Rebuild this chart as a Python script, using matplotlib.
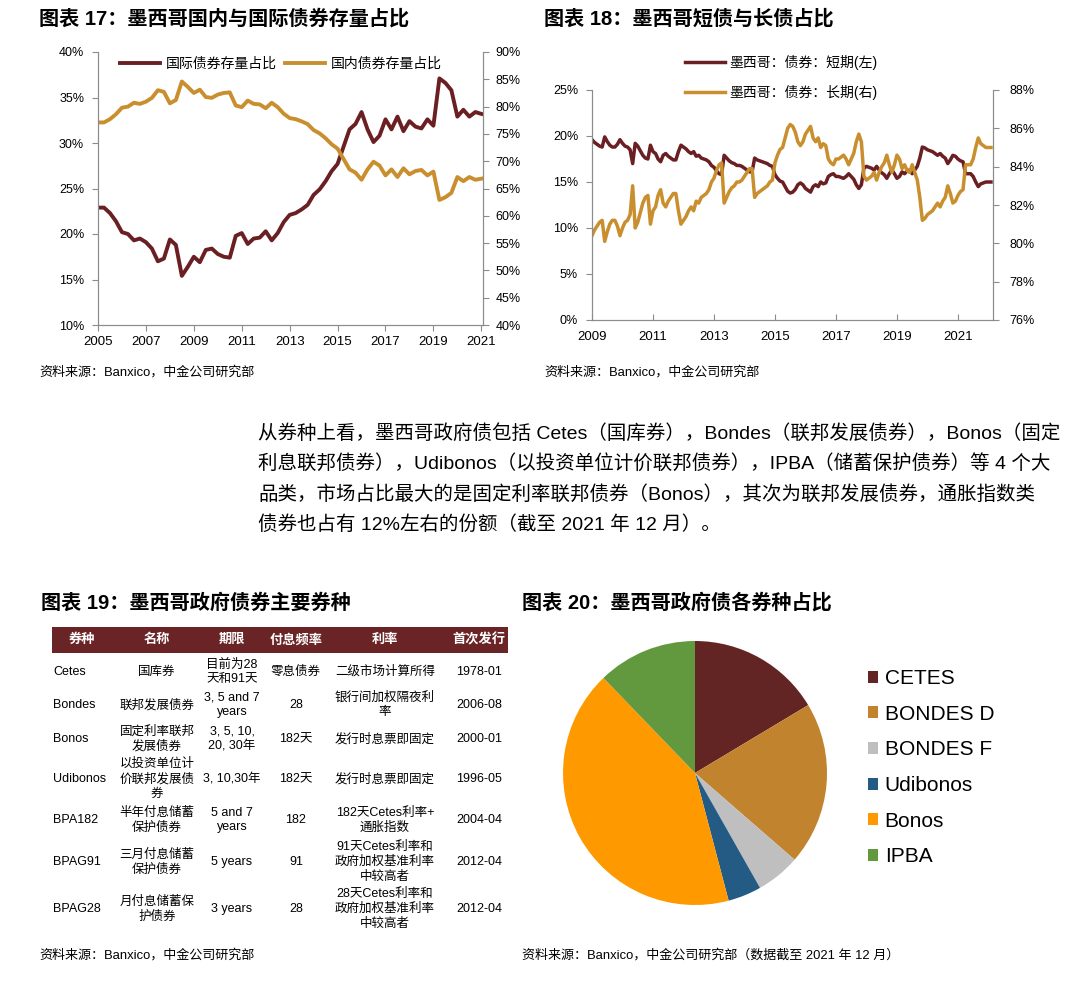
import numpy as np
import matplotlib
matplotlib.use('Agg')
import matplotlib.pyplot as plt
from matplotlib.patches import Rectangle
from matplotlib.lines import Line2D
from matplotlib.ticker import FuncFormatter

plt.rcParams['font.family'] = ['Liberation Sans', 'Noto Sans CJK SC']
plt.rcParams['axes.unicode_minus'] = False

W, H = 1080, 986
RED = '#6A1F22'
GOLD = '#C98F2E'
HEAD = '#6B2426'
AXC = '#8C8C8C'

# ---- 图表17: quarterly, 2005Q1 - 2021Q1
intl_share = [22.9, 22.9, 22.3, 21.4, 20.2, 20.0, 19.3, 19.5, 19.1, 18.4, 17.0, 17.3, 19.4,
              18.8, 15.4, 16.4, 17.5, 16.9, 18.25, 18.4, 17.8, 17.5, 17.4, 19.8, 20.1, 18.9,
              19.5, 19.6, 20.3, 19.3, 20.1, 21.3, 22.1, 22.3, 22.7, 23.2, 24.3, 24.9, 25.8,
              26.9, 27.7, 29.6, 31.5, 32.1, 33.4, 31.5, 30.1, 30.8, 32.6, 31.5, 32.9, 31.3,
              32.4, 31.8, 31.6, 32.6, 31.9, 37.1, 36.6, 35.8, 32.9, 33.65, 32.9, 33.4, 33.2]
dom_share = [77.1, 77.1, 77.7, 78.6, 79.8, 80.0, 80.7, 80.5, 80.9, 81.6, 83.0, 82.7, 80.6,
             81.2, 84.6, 83.6, 82.5, 83.1, 81.75, 81.6, 82.2, 82.5, 82.6, 80.2, 79.9, 81.1,
             80.5, 80.4, 79.7, 80.7, 79.9, 78.7, 77.9, 77.7, 77.3, 76.8, 75.7, 75.1, 74.2,
             73.1, 72.3, 70.4, 68.5, 67.9, 66.6, 68.5, 69.9, 69.2, 67.4, 68.5, 67.1, 68.7,
             67.6, 68.2, 68.4, 67.4, 68.1, 62.9, 63.4, 64.2, 67.1, 66.35, 67.1, 66.6, 66.8]
q_years = 2005 + np.arange(len(intl_share)) / 4

# ---- 图表18: monthly, 2009-01 - 2022-02
short_share = [19.6, 19.3, 19.1, 18.9, 18.8, 19.9, 19.4, 19.0, 18.8, 18.8, 19.1, 19.6,
               19.2, 18.9, 18.8, 18.5, 17.0, 19.2, 18.9, 18.4, 17.9, 17.6, 17.5, 19.0,
               18.3, 18.1, 17.5, 17.2, 17.9, 18.1, 17.8, 17.6, 17.4, 17.4, 18.3, 19.0,
               18.8, 18.6, 18.3, 18.1, 18.3, 17.8, 17.9, 17.6, 17.5, 17.4, 17.2, 16.8,
               16.6, 16.2, 15.9, 15.8, 17.9, 17.6, 17.3, 17.1, 17.0, 16.8, 16.8, 16.7,
               16.5, 16.3, 16.1, 16.1, 17.6, 17.4, 17.3, 17.2, 17.1, 17.0, 16.8, 16.7,
               15.8, 15.4, 15.1, 15.0, 14.5, 14.0, 13.8, 13.9, 14.2, 14.7, 14.9, 14.7,
               14.3, 14.1, 13.9, 14.5, 14.7, 14.5, 15.0, 14.8, 14.9, 15.6, 15.8, 15.9,
               15.6, 15.6, 15.5, 15.4, 15.6, 15.9, 15.6, 15.3, 14.7, 14.3, 14.7, 16.5,
               16.7, 16.6, 16.5, 16.3, 16.7, 16.3, 16.0, 15.8, 15.4, 15.9, 16.3, 15.9,
               15.4, 15.6, 16.1, 15.9, 16.2, 16.3, 15.9, 16.3, 16.7, 17.6, 18.8, 18.7,
               18.5, 18.4, 18.3, 18.1, 17.9, 18.1, 17.8, 17.6, 17.0, 17.4, 17.9, 17.8,
               17.5, 17.3, 17.2, 15.9, 15.9, 15.9, 15.6, 15.0, 14.5, 14.8, 14.9, 15.0,
               15.0, 15.0]
long_share = [80.4, 80.7, 80.9, 81.1, 81.2, 80.1, 80.6, 81.0, 81.2, 81.2, 80.9, 80.4,
              80.8, 81.1, 81.2, 81.5, 83.0, 80.8, 81.1, 81.6, 82.1, 82.4, 82.5, 81.0,
              81.7, 81.9, 82.5, 82.8, 82.1, 81.9, 82.2, 82.4, 82.6, 82.6, 81.7, 81.0,
              81.2, 81.4, 81.7, 81.9, 81.7, 82.2, 82.1, 82.4, 82.5, 82.6, 82.8, 83.2,
              83.4, 83.8, 84.1, 84.2, 82.1, 82.4, 82.7, 82.9, 83.0, 83.2, 83.2, 83.3,
              83.5, 83.7, 83.9, 83.9, 82.4, 82.6, 82.7, 82.8, 82.9, 83.0, 83.2, 83.3,
              84.2, 84.6, 84.9, 85.0, 85.5, 86.0, 86.2, 86.1, 85.8, 85.3, 85.1, 85.3,
              85.7, 85.9, 86.1, 85.5, 85.3, 85.5, 85.0, 85.2, 85.1, 84.4, 84.2, 84.1,
              84.4, 84.4, 84.5, 84.6, 84.4, 84.1, 84.4, 84.7, 85.3, 85.7, 85.3, 83.5,
              83.3, 83.4, 83.5, 83.7, 83.3, 83.7, 84.0, 84.2, 84.6, 84.1, 83.7, 84.1,
              84.6, 84.4, 83.9, 84.1, 83.8, 83.7, 84.1, 83.7, 83.3, 82.4, 81.2, 81.3,
              81.5, 81.6, 81.7, 81.9, 82.1, 81.9, 82.2, 82.4, 83.0, 82.6, 82.1, 82.2,
              82.5, 82.7, 82.8, 84.1, 84.1, 84.1, 84.4, 85.0, 85.5, 85.2, 85.1, 85.0,
              85.0, 85.0]
m_years = 2009 + np.arange(len(short_share)) / 12

# ---- 图表19: table
tbl_head = ['券种', '名称', '期限', '付息频率', '利率', '首次发行']
codes = ['Cetes', 'Bondes', 'Bonos', 'Udibonos', 'BPA182', 'BPAG91', 'BPAG28']
names = ['国库券', '联邦发展债券', '固定利率联邦\n发展债券', '以投资单位计\n价联邦发展债\n券',
         '半年付息储蓄\n保护债券', '三月付息储蓄\n保护债券', '月付息储蓄保\n护债券']
terms = ['目前为28\n天和91天', '3, 5 and 7\nyears', '3, 5, 10,\n20, 30年', '3, 10,30年',
         '5 and 7\nyears', '5 years', '3 years']
freqs = ['零息债券', '28', '182天', '182天', '182', '91', '28']
rates = ['二级市场计算所得', '银行间加权隔夜利\n率', '发行时息票即固定', '发行时息票即固定',
         '182天Cetes利率+\n通胀指数', '91天Cetes利率和\n政府加权基准利率\n中较高者',
         '28天Cetes利率和\n政府加权基准利率\n中较高者']
first_issue = ['1978-01', '2006-08', '2000-01', '1996-05', '2004-04', '2012-04', '2012-04']

# ---- 图表20: pie
pie_labels = ['CETES', 'BONDES D', 'BONDES F', 'Udibonos', 'Bonos', 'IPBA']
pie_values = [16.4, 20.0, 5.4, 4.1, 41.9, 12.2]
pie_colors = ['#632523', '#C2832F', '#BFBFBF', '#245B85', '#FF9900', '#62993E']

para_lines = [
    '从券种上看，墨西哥政府债包括 Cetes（国库券），Bondes（联邦发展债券），Bonos（固定',
    '利息联邦债券），Udibonos（以投资单位计价联邦债券），IPBA（储蓄保护债券）等 4 个大',
    '品类，市场占比最大的是固定利率联邦债券（Bonos），其次为联邦发展债券，通胀指数类',
    '债券也占有 12%左右的份额（截至 2021 年 12 月）。',
]


def box(l, t, r, b):
    return [l / W, 1 - b / H, (r - l) / W, (b - t) / H]


pct = FuncFormatter(lambda v, p: f'{v:.0f}%')


def style(ax, axr, bottom_dir='out'):
    for a in (ax, axr):
        a.spines['top'].set_visible(False)
        for s in ('left', 'right', 'bottom'):
            a.spines[s].set_color(AXC)
        a.yaxis.set_major_formatter(pct)
        a.patch.set_alpha(0)
    ax.tick_params(axis='y', direction='out', length=4, color=AXC, labelsize=9, pad=6)
    axr.tick_params(axis='y', direction='out', length=4, color=AXC, labelsize=9, pad=5)
    ax.tick_params(axis='x', direction=bottom_dir, length=4, color=AXC, labelsize=9.5, pad=4)


fig = plt.figure(figsize=(W / 100, H / 100), dpi=100)

# 图表17
ax1 = fig.add_axes(box(98, 52, 483, 325))
ax1r = ax1.twinx()
ax1.plot(q_years, intl_share, color=RED, lw=2.8)
ax1r.plot(q_years, dom_share, color=GOLD, lw=2.8)
ax1.set_xlim(2005, 2021.07)
ax1.set_ylim(10, 40)
ax1r.set_ylim(40, 90)
ax1.set_xticks(range(2005, 2022, 2))
ax1.set_yticks(range(10, 41, 5))
ax1r.set_yticks(range(40, 91, 5))
style(ax1, ax1r)
h17 = [Line2D([], [], color=RED, lw=2.8), Line2D([], [], color=GOLD, lw=2.8)]
ax1r.legend(h17, ['国际债券存量占比', '国内债券存量占比'], ncol=2, frameon=False, fontsize=10,
            loc='upper left', bbox_to_anchor=(120 / W, 1 - 57 / H), bbox_transform=fig.transFigure,
            handlelength=2.9, handletextpad=0.4, columnspacing=0.6, borderpad=0, borderaxespad=0)

# 图表18
ax2 = fig.add_axes(box(592, 90, 993, 320))
ax2r = ax2.twinx()
ax2.plot(m_years, short_share, color=RED, lw=2.5)
ax2r.plot(m_years, long_share, color=GOLD, lw=2.5)
ax2.set_xlim(2009, 2022.15)
ax2.set_ylim(0, 25)
ax2r.set_ylim(76, 88)
ax2.set_xticks(range(2009, 2022, 2))
ax2.set_yticks(range(0, 26, 5))
ax2r.set_yticks(range(76, 89, 2))
style(ax2, ax2r, bottom_dir='in')
ax2.tick_params(axis='x', pad=8)
ax2r.tick_params(axis='y', pad=8)
h18 = [Line2D([], [], color=RED, lw=2.5), Line2D([], [], color=GOLD, lw=2.5)]
ax2r.legend(h18, ['墨西哥：债券：短期(左)', '墨西哥：债券：长期(右)'], frameon=False, fontsize=10,
            loc='upper left', bbox_to_anchor=(685 / W, 1 - 55 / H), bbox_transform=fig.transFigure,
            handlelength=2.9, handletextpad=0.3, labelspacing=1.05, borderpad=0, borderaxespad=0)

# 图表20 pie
ax4 = fig.add_axes(box(563, 641, 827, 905))
wedges, _ = ax4.pie(pie_values, colors=pie_colors, startangle=90, counterclock=False,
                    wedgeprops=dict(linewidth=0))
ax4.set_xlim(-1, 1)
ax4.set_ylim(-1, 1)
ax4.set_aspect('equal')
ax4.legend(wedges, pie_labels, frameon=False, fontsize=15, loc='upper left',
           bbox_to_anchor=(868 / W, 1 - 669 / H), bbox_transform=fig.transFigure,
           handlelength=0.5, handleheight=0.5, handletextpad=0.3, labelspacing=0.8,
           borderpad=0, borderaxespad=0)

# overlay for titles, table and text (pixel coords)
ov = fig.add_axes([0, 0, 1, 1])
ov.set_xlim(0, W)
ov.set_ylim(H, 0)
ov.axis('off')

title_kw = dict(fontsize=14.5, fontweight='bold', va='center', ha='left')
ov.text(39, 19, '图表 17：墨西哥国内与国际债券存量占比', **title_kw)
ov.text(544, 19, '图表 18：墨西哥短债与长债占比', **title_kw)
ov.text(41, 603, '图表 19：墨西哥政府债券主要券种', **title_kw)
ov.text(522, 603, '图表 20：墨西哥政府债各券种占比', **title_kw)

src_kw = dict(fontsize=9.4, va='center', ha='left')
ov.text(39, 372, '资料来源：Banxico，中金公司研究部', **src_kw)
ov.text(544, 372, '资料来源：Banxico，中金公司研究部', **src_kw)
ov.text(39, 955, '资料来源：Banxico，中金公司研究部', **src_kw)
ov.text(522, 955, '资料来源：Banxico，中金公司研究部（数据截至 2021 年 12 月）', **src_kw)

for i, line in enumerate(para_lines):
    ov.text(258, 433 + 30.5 * i, line, fontsize=14, va='center', ha='left')

# table
ov.add_patch(Rectangle((52, 627), 456, 26, color=HEAD, lw=0))
col_x = [82, 157, 232, 296, 385, 479]
for x, t in zip(col_x, tbl_head):
    ov.text(x, 640, t, color='white', fontsize=9.5, fontweight='bold', ha='center', va='center')
row_y = [672, 705, 739, 779, 820, 862, 909]
cell_kw = dict(fontsize=9, va='center', linespacing=1.3)
for k, y in enumerate(row_y):
    ov.text(53, y, codes[k], ha='left', **cell_kw)
    ov.text(col_x[1], y, names[k], ha='center', multialignment='center', **cell_kw)
    ov.text(col_x[2], y, terms[k], ha='center', multialignment='center', **cell_kw)
    ov.text(col_x[3], y, freqs[k], ha='center', **cell_kw)
    ov.text(col_x[4], y, rates[k], ha='center', multialignment='center', **cell_kw)
    ov.text(col_x[5], y, first_issue[k], ha='center', **cell_kw)

fig.savefig('out.png', dpi=100, facecolor='white')
